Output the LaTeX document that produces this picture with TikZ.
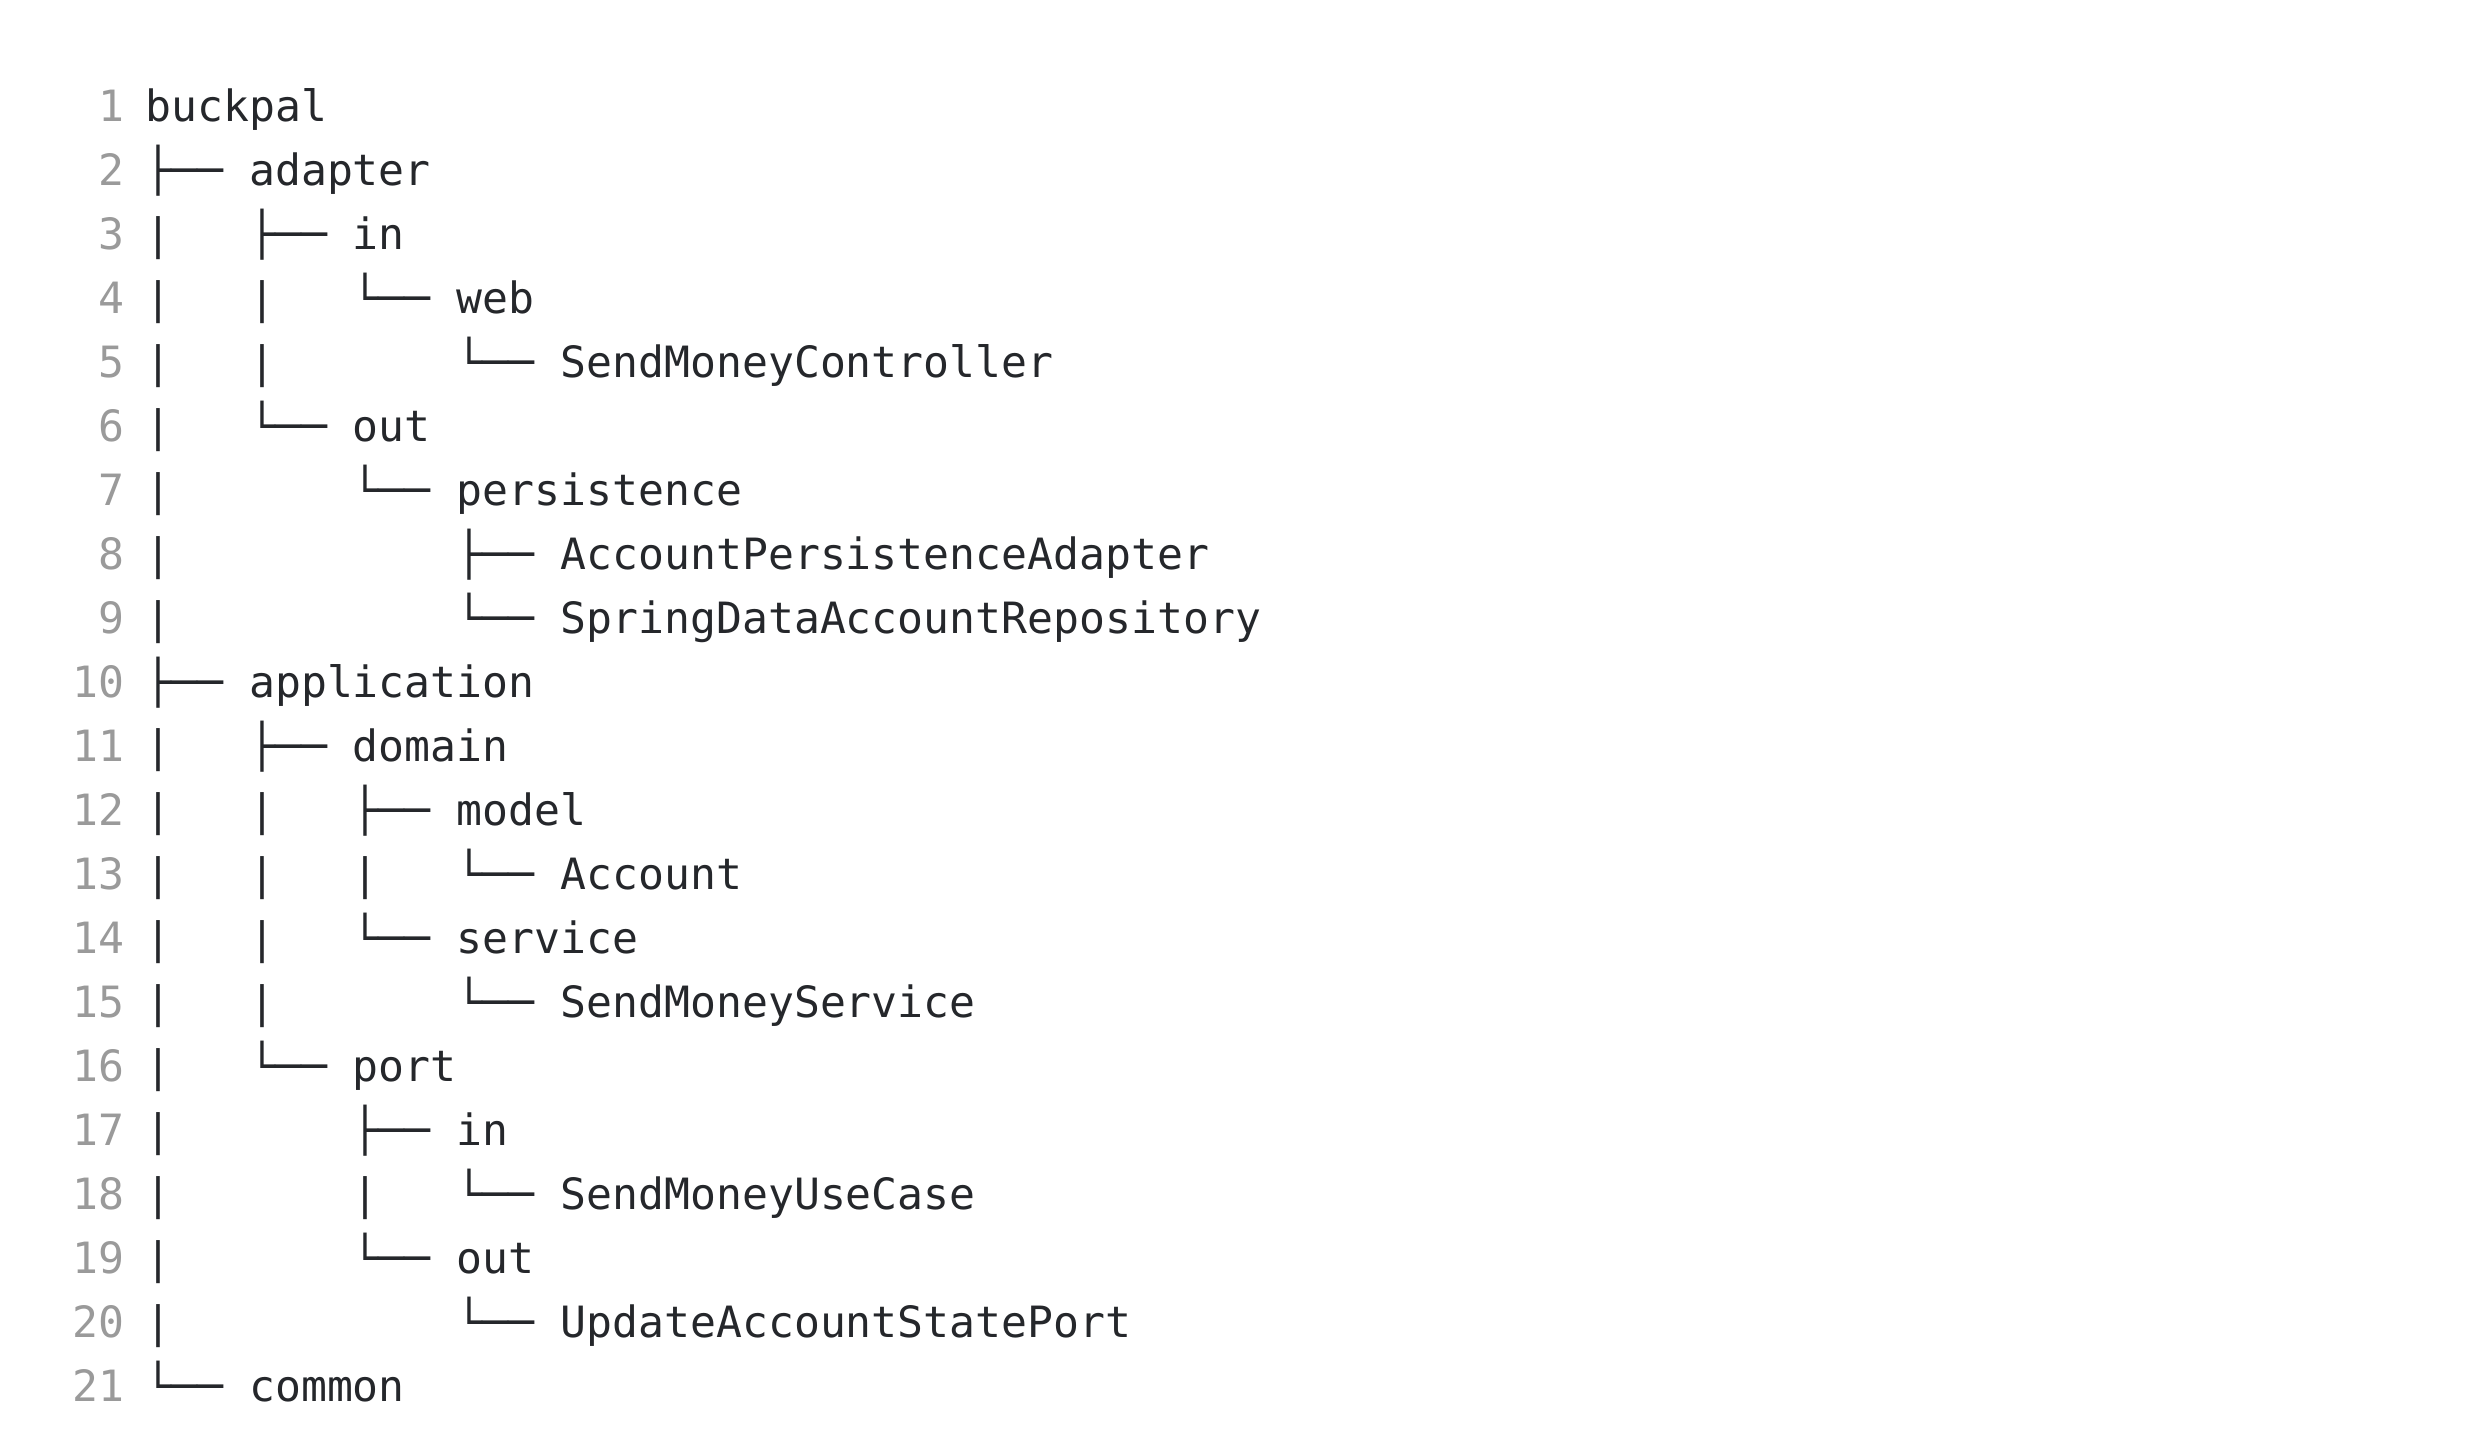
\documentclass[tikz,border=0pt]{standalone}
\usepackage{fontspec}
\newfontfamily\codefont{DejaVu Sans Mono}
\definecolor{codetext}{HTML}{25272B}
\definecolor{lnum}{HTML}{9A9A9A}
\begin{document}
\begin{tikzpicture}[x=0.5pt,y=-0.5pt,
  codeline/.style={anchor=base west, inner sep=0pt, text=codetext, font=\codefont\fontsize{21.55pt}{32pt}\selectfont},
  linenum/.style={anchor=base east, inner sep=0pt, text=lnum, font=\codefont\fontsize{21.55pt}{32pt}\selectfont}]
\useasboundingbox[fill=white] (0,0) rectangle (2475,1448);
\foreach \t [count=\i] in {
  buckpal,
  ├──~adapter,
  |~~~├──~in,
  |~~~|~~~└──~web,
  |~~~|~~~~~~~└──~SendMoneyController,
  |~~~└──~out,
  |~~~~~~~└──~persistence,
  |~~~~~~~~~~~├──~AccountPersistenceAdapter,
  |~~~~~~~~~~~└──~SpringDataAccountRepository,
  ├──~application,
  |~~~├──~domain,
  |~~~|~~~├──~model,
  |~~~|~~~|~~~└──~Account,
  |~~~|~~~└──~service,
  |~~~|~~~~~~~└──~SendMoneyService,
  |~~~└──~port,
  |~~~~~~~├──~in,
  |~~~~~~~|~~~└──~SendMoneyUseCase,
  |~~~~~~~└──~out,
  |~~~~~~~~~~~└──~UpdateAccountStatePort,
  └──~common}{
  \node[linenum] (n\i) at (125,{121.5+(\i-1)*64}) {\i};
  \node[codeline] (l\i) at (145,{121.5+(\i-1)*64}) {\t};
}
\end{tikzpicture}
\end{document}
